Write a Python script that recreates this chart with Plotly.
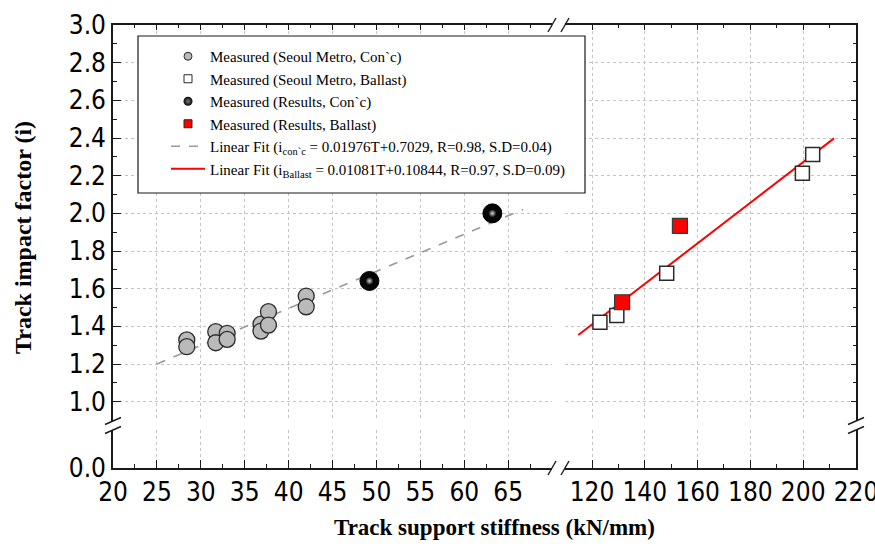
import plotly.graph_objects as go

# ---------------- data ----------------
seoul_conc_x = [28.4, 28.4, 31.7, 31.7, 33.0, 33.0, 36.85, 36.85, 37.7, 37.7, 42.0, 42.0]
seoul_conc_y = [1.328, 1.292, 1.372, 1.313, 1.363, 1.331, 1.412, 1.375, 1.478, 1.407, 1.561, 1.504]
results_conc_x = [49.2, 63.2]
results_conc_y = [1.641, 2.000]
seoul_ballast_x = [123.0, 129.4, 148.3, 199.7, 203.6]
seoul_ballast_y = [1.422, 1.457, 1.682, 2.213, 2.313]
results_ballast_x = [131.4, 153.3]
results_ballast_y = [1.528, 1.934]
fit_conc_x = [25.0, 66.7]
fit_conc_y = [1.200, 2.021]
fit_ballast_x = [114.8, 211.7]
fit_ballast_y = [1.354, 2.398]

legend_names = [
    "Measured (Seoul Metro, Con`c)",
    "Measured (Seoul Metro, Ballast)",
    "Measured (Results, Con`c)",
    "Measured (Results, Ballast)",
    "Linear Fit (i<sub>con`c</sub> = 0.01976T+0.7029, R=0.98, S.D=0.04)",
    "Linear Fit (i<sub>Ballast</sub> = 0.01081T+0.10844, R=0.97, S.D=0.09)",
]
x_title = "Track support stiffness (kN/mm)"
y_title = "Track impact factor (i)"

# ---------------- layout geometry ----------------
W, H = 875, 548
L, R, T, B = 113, 19, 25, 80
PW, PH = W - L - R, H - T - B


def fx(p):
    return (p - L) / PW


def fy(p):
    return (H - B - p) / PH


XL_END, XR_START = 552, 565
YU_BOTTOM, YL_TOP = 421, 430

AXC = "#1a1a1a"
GRID = "#c4c4c4"
TICKFONT = dict(family="Liberation Sans Narrow, DejaVu Sans Condensed, Arial", size=26, color="black")
SERIF = "Liberation Serif, Times New Roman, serif"

fig = go.Figure()

# fit lines
fig.add_trace(go.Scatter(x=fit_conc_x, y=fit_conc_y, mode="lines", xaxis="x", yaxis="y",
                         line=dict(color="#9a9a9a", width=1.6, dash="dash"), showlegend=False, hoverinfo="skip"))
fig.add_trace(go.Scatter(x=fit_ballast_x, y=fit_ballast_y, mode="lines", xaxis="x2", yaxis="y",
                         line=dict(color="#ff0000", width=2), showlegend=False, hoverinfo="skip"))

# markers
fig.add_trace(go.Scatter(x=seoul_conc_x, y=seoul_conc_y, mode="markers", xaxis="x", yaxis="y",
                         marker=dict(symbol="circle", size=16, color="#bababa",
                                     line=dict(color="#2a2a2a", width=1.3)), showlegend=False))
fig.add_trace(go.Scatter(x=results_conc_x, y=results_conc_y, mode="markers", xaxis="x", yaxis="y",
                         marker=dict(symbol="circle", size=19, color="#050505",
                                     line=dict(color="#000000", width=1)), showlegend=False))
fig.add_trace(go.Scatter(x=results_conc_x, y=results_conc_y, mode="markers", xaxis="x", yaxis="y",
                         marker=dict(symbol="circle", size=8, color="#050505",
                                     gradient=dict(type="radial", color="#d8d8d8"),
                                     line=dict(width=0)), showlegend=False, hoverinfo="skip"))
fig.add_trace(go.Scatter(x=seoul_ballast_x, y=seoul_ballast_y, mode="markers", xaxis="x2", yaxis="y",
                         marker=dict(symbol="square", size=14, color="white",
                                     line=dict(color="#2a2a2a", width=1.5)), showlegend=False))
fig.add_trace(go.Scatter(x=results_ballast_x, y=results_ballast_y, mode="markers", xaxis="x2", yaxis="y",
                         marker=dict(symbol="square", size=15, color="#ff0000",
                                     line=dict(color="#3a3a3a", width=1.2)), showlegend=False))

# legend entries
leg_styles = [
    dict(mode="markers", marker=dict(symbol="circle", size=8, color="#bababa", line=dict(color="#2a2a2a", width=1))),
    dict(mode="markers", marker=dict(symbol="square", size=8, color="white", line=dict(color="#2a2a2a", width=1))),
    dict(mode="markers", marker=dict(symbol="circle", size=9, color="#050505",
                                     gradient=dict(type="radial", color="#777777"), line=dict(width=0))),
    dict(mode="markers", marker=dict(symbol="square", size=8, color="#ff0000", line=dict(color="#2a2a2a", width=1))),
    dict(mode="lines", line=dict(color="#9a9a9a", width=1.6, dash="dash")),
    dict(mode="lines", line=dict(color="#ff0000", width=2)),
]
for name, st in zip(legend_names, leg_styles):
    fig.add_trace(go.Scatter(x=[None], y=[None], name=name, xaxis="x", yaxis="y", showlegend=True, **st))

# empty traces so every panel / overlay axis exists
for xa, ya in [("x", "y2"), ("x2", "y2"), ("x3", "y"), ("x4", "y"), ("x2", "y3"), ("x2", "y4")]:
    fig.add_trace(go.Scatter(x=[None], y=[None], xaxis=xa, yaxis=ya, mode="markers",
                             showlegend=False, hoverinfo="skip"))

common = dict(showline=True, linecolor=AXC, linewidth=1.6, ticks="inside", tickcolor=AXC,
              tickwidth=1.4, zeroline=False, automargin=False, tickfont=TICKFONT, fixedrange=True,
              ticklabeloverflow="allow")
grid = dict(showgrid=True, gridcolor=GRID, gridwidth=1, griddash="dot")

xl_dom = [0, fx(XL_END)]
xr_dom = [fx(XR_START), 1]
yu_dom = [fy(YU_BOTTOM), 1]
yl_dom = [0, fy(YL_TOP)]
xl_rng = [20, 69.99]
xr_rng = [109.77, 220.01]
yu_rng = [0.8975, 3.0]
yl_rng = [0, 0.2018]

fig.update_layout(
    width=W, height=H, template="none",
    margin=dict(l=L, r=R, t=T, b=B, pad=0),
    paper_bgcolor="white", plot_bgcolor="white",
    showlegend=True,
    xaxis=dict(domain=xl_dom, range=xl_rng, anchor="y2", tick0=20, dtick=5, ticklen=8,
               minor=dict(tick0=20, dtick=2.5, ticklen=4, ticks="inside", tickcolor=AXC, showgrid=False),
               **common, **grid),
    xaxis2=dict(domain=xr_dom, range=xr_rng, anchor="y2", tick0=0, dtick=20, ticklen=8,
                minor=dict(tick0=0, dtick=10, ticklen=4, ticks="inside", tickcolor=AXC, showgrid=False),
                **common, **grid),
    xaxis3=dict(overlaying="x", side="top", anchor="y", range=xl_rng, tick0=20, dtick=5, ticklen=5,
                minor=dict(tick0=20, dtick=2.5, ticklen=3, ticks="inside", tickcolor=AXC),
                showticklabels=False, showgrid=False, **common),
    xaxis4=dict(overlaying="x2", side="top", anchor="y", range=xr_rng, tick0=0, dtick=20, ticklen=5,
                minor=dict(tick0=0, dtick=10, ticklen=3, ticks="inside", tickcolor=AXC),
                showticklabels=False, showgrid=False, **common),
    yaxis=dict(domain=yu_dom, range=yu_rng, anchor="x", tick0=0, dtick=0.2, ticklen=8, tickformat=".1f",
               minor=dict(tick0=0, dtick=0.1, ticklen=4, ticks="inside", tickcolor=AXC, showgrid=False),
               **common, **grid),
    yaxis2=dict(domain=yl_dom, range=yl_rng, anchor="x", tickmode="array", tickvals=[0.0], ticktext=["0.0"],
                ticklen=8, showgrid=False, **common),
    yaxis3=dict(overlaying="y", side="right", anchor="x2", range=yu_rng, tick0=0, dtick=0.2, ticklen=5,
                minor=dict(tick0=0, dtick=0.1, ticklen=3, ticks="inside", tickcolor=AXC),
                showticklabels=False, showgrid=False, **common),
    yaxis4=dict(overlaying="y2", side="right", anchor="x2", range=yl_rng, tickmode="array", tickvals=[],
                showticklabels=False, showgrid=False, **common),
    legend=dict(x=fx(166), y=fy(40), xanchor="left", yanchor="top", bgcolor="rgba(0,0,0,0)",
                borderwidth=0, itemwidth=34,
                font=dict(family=SERIF, size=15, color="black"), tracegroupgap=0),
)

# legend frame (decoration)
fig.add_shape(type="rect", xref="paper", yref="paper", layer="above",
              x0=fx(138), y0=fy(193), x1=fx(585), y1=fy(36),
              fillcolor="white", line=dict(color=AXC, width=1.2))

# axis titles
fig.add_annotation(x=fx(495), y=fy(527), xref="paper", yref="paper", text="<b>" + x_title + "</b>",
                   showarrow=False, xanchor="center", yanchor="middle",
                   font=dict(family=SERIF, size=23, color="black"))
fig.add_annotation(x=fx(23), y=fy(238), xref="paper", yref="paper", text="<b>" + y_title + "</b>",
                   showarrow=False, xanchor="center", yanchor="middle", textangle=-90,
                   font=dict(family=SERIF, size=24, color="black"))

# axis-break marks (decoration)
breaks = [
    (XL_END, H - B, 4, 7), (XR_START, H - B, 4, 7),
    (XL_END, T, 4, 7), (XR_START, T, 4, 7),
    (L, YU_BOTTOM, 8, 3.5), (L, YL_TOP, 8, 3.5),
    (W - R, YU_BOTTOM, 8, 3.5), (W - R, YL_TOP, 8, 3.5),
]
for cx, cy, dx, dy in breaks:
    fig.add_shape(type="line", xref="paper", yref="paper",
                  x0=fx(cx - dx), y0=fy(cy + dy), x1=fx(cx + dx), y1=fy(cy - dy),
                  line=dict(color=AXC, width=1.4))

fig.write_html("out.html")
